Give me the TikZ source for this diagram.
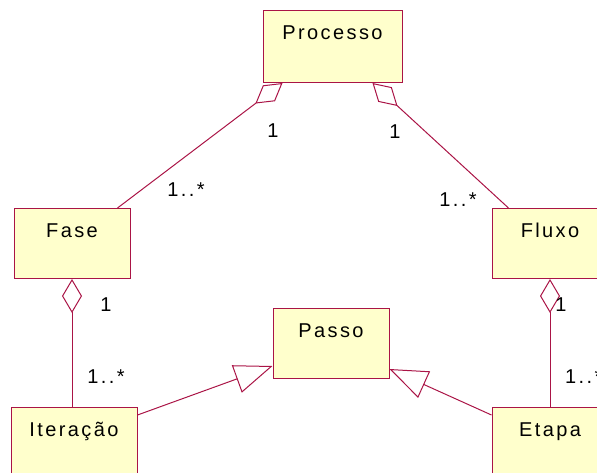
\documentclass[tikz,border=0pt]{standalone}
\usepackage{fontspec}
\setmainfont{Liberation Sans}[LetterSpace=12]
\usetikzlibrary{arrows.meta}
\definecolor{rosered}{RGB}{170,20,70}
\definecolor{rosefill}{RGB}{255,255,204}
\begin{document}
\begin{tikzpicture}[x=1pt,y=-1pt,font=\fontsize{20}{24}\selectfont,
  cls/.style={draw=rosered,fill=rosefill,line width=1pt,anchor=north,
    minimum width=#1,inner sep=0pt,text height=29pt,text depth=41pt},
  agg/.style={draw=rosered,line width=1pt,{Diamond[open,length=34pt,width=20pt]}-},
  gen/.style={draw=rosered,line width=1pt,-{Triangle[open,length=38pt,width=29pt]}},
  mult/.style={inner sep=0pt}]
\useasboundingbox (0,0) rectangle (597,472);
\clip (0,0) rectangle (597,472);
% classes
\node[cls=139pt,text depth=43pt] (processo) at (332.5,10) {Processo};
\node[cls=116pt] (fase) at (72,208) {Fase};
\node[cls=116pt] (fluxo) at (550,208) {Fluxo};
\node[cls=116pt] (passo) at (331,308) {Passo};
\node[cls=126pt] (iteracao) at (74,407) {Iteração};
\node[cls=116pt] (etapa) at (550,407) {Etapa};
% aggregations
\draw[agg] ([xshift=20pt]processo.south west) -- ([xshift=-13pt]fase.north east);
\draw[agg] ([xshift=-30pt]processo.south east) -- ([xshift=17pt]fluxo.north west);
\draw[agg] (fase.south) -- (fase.south |- iteracao.north);
\draw[agg] (fluxo.south) -- (etapa.north);
% generalizations
\draw[gen] ([yshift=-8pt]iteracao.north east) -- ([yshift=13pt]passo.south west);
\draw[gen] ([yshift=-8pt]etapa.north west) -- ([yshift=10pt]passo.south east);
% multiplicities
\node[mult] (mpf) at (273,131) {1};
\node[mult] (mfp) at (186,190) {1..*};
\node[mult] (mpx) at (395,132) {1};
\node[mult] (mxp) at (458,200) {1..*};
\node[mult] (mfi) at (106,305) {1};
\node[mult] (mif) at (106,377) {1..*};
\node[mult] (mxe) at (561,305) {1};
\node[mult,anchor=west] (mex) at (565,377) {1..*};
\end{tikzpicture}
\end{document}
